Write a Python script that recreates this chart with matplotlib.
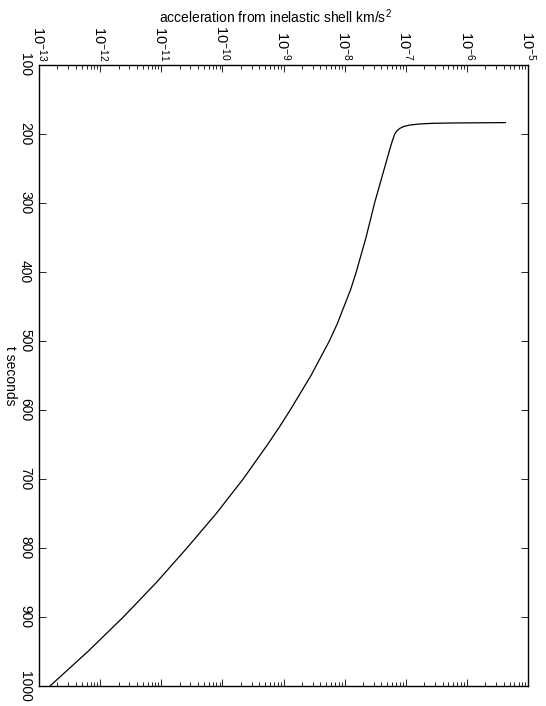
import numpy as np
import matplotlib
matplotlib.use("Agg")
import matplotlib.pyplot as plt
from matplotlib.ticker import LogLocator, LogFormatterMathtext, FixedLocator

# Data (t in seconds, log10 of acceleration in km/s^2)
t_seconds = [183.5, 184, 184.5, 185.5, 187, 189, 192, 196, 200, 210, 225, 250,
             275, 300, 325, 350, 375, 400, 425, 450, 475, 500, 525, 550, 575,
             600, 625, 650, 675, 700, 725, 750, 775, 800, 825, 850, 875, 900,
             925, 950, 975, 1000]
log10_accel = [-5.37, -6.2, -6.55, -6.78, -6.93, -7.03, -7.10, -7.15, -7.18,
               -7.22, -7.27, -7.35, -7.43, -7.51, -7.58, -7.65, -7.73, -7.81,
               -7.90, -8.01, -8.12, -8.25, -8.40, -8.55, -8.72, -8.89, -9.07,
               -9.26, -9.46, -9.66, -9.88, -10.10, -10.34, -10.58, -10.83,
               -11.08, -11.35, -11.62, -11.91, -12.20, -12.51, -12.82]
t_ticks = [100, 200, 300, 400, 500, 600, 700, 800, 900, 1000]
accel_ticks = [1e-13, 1e-12, 1e-11, 1e-10, 1e-9, 1e-8, 1e-7, 1e-6, 1e-5]

accel = 10.0 ** np.array(log10_accel)

plt.rcParams['font.family'] = ['Liberation Sans', 'DejaVu Sans']
plt.rcParams['mathtext.fontset'] = 'custom'
plt.rcParams['mathtext.rm'] = 'Liberation Sans'
plt.rcParams['mathtext.it'] = 'Liberation Sans'

W, H = 546, 706
fig = plt.figure(figsize=(W / 100, H / 100), dpi=100)
left, right, top, bottom = 39, 528, 65, 686
ax = fig.add_axes([left / W, 1 - bottom / H, (right - left) / W, (bottom - top) / H])

ax.plot(accel, t_seconds, color='black', lw=0.9)

ax.set_xscale('log')
ax.set_xlim(1e-13, 1e-5)
ax.set_ylim(1000, 100)

ax.xaxis.set_major_locator(FixedLocator(accel_ticks))
ax.xaxis.set_major_formatter(LogFormatterMathtext())
ax.xaxis.set_minor_locator(LogLocator(base=10, subs=np.arange(2, 10), numticks=20))
ax.yaxis.set_major_locator(FixedLocator(t_ticks))

ax.tick_params(axis='x', which='both', direction='in', top=True, bottom=True,
               labeltop=True, labelbottom=False, labelsize=10.5, pad=3)
ax.tick_params(axis='y', which='both', direction='in', left=True, right=True,
               labelleft=True, labelright=False, labelsize=10, pad=5)
ax.tick_params(which='major', length=5, width=0.6)
ax.tick_params(which='minor', length=3, width=0.6)

for lab in ax.get_xticklabels():
    lab.set_rotation(-90)
for lab in ax.get_yticklabels():
    lab.set_rotation(-90)
    lab.set_va('center')

for s in ax.spines.values():
    s.set_linewidth(1.0)

fig.text(275 / W, 1 - 17 / H,
         'acceleration from inelastic shell km/s$^2$',
         ha='center', va='center', fontsize=10)
fig.text(10 / W, 1 - 376 / H, 't seconds', rotation=-90,
         ha='center', va='center', fontsize=10)

fig.savefig('out.png', dpi=100)
